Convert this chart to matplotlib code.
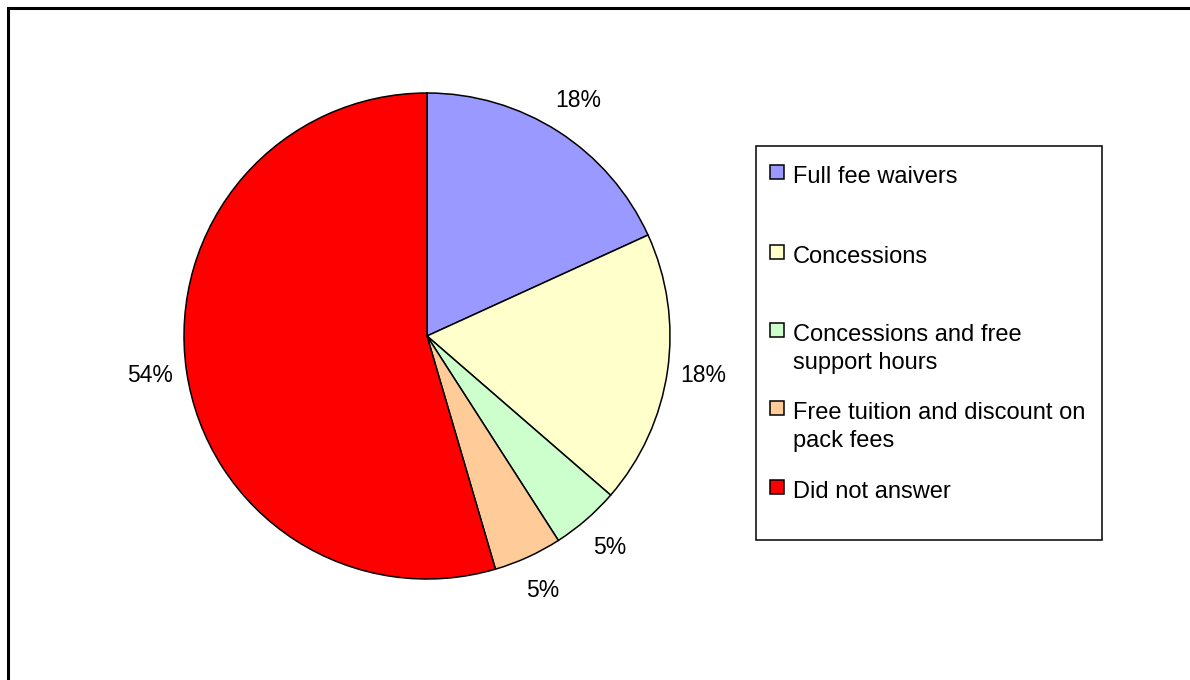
import numpy as np
import matplotlib
matplotlib.use("Agg")
import matplotlib.pyplot as plt
from matplotlib.patches import Rectangle

# ---- data ----
categories = ["Full fee waivers", "Concessions", "Concessions and free\nsupport hours",
              "Free tuition and discount on\npack fees", "Did not answer"]
counts = [4, 4, 1, 1, 12]
pct_labels = ["18%", "18%", "5%", "5%", "54%"]
colors = ["#9999FF", "#FFFFCC", "#CCFFCC", "#FFCC99", "#FF0000"]

plt.rcParams['font.family'] = ['Liberation Sans', 'DejaVu Sans']

W, H = 1190, 680
fig = plt.figure(figsize=(W / 100, H / 100), dpi=100)
ax = fig.add_axes([0, 0, 1, 1])

def py(y):
    return H - y

cx, cy, r = 427, py(336), 243
wedges, _ = ax.pie(counts, colors=colors, startangle=90, counterclock=False,
                   center=(cx, cy), radius=r,
                   wedgeprops=dict(edgecolor='black', linewidth=1.1))
ax.set_xlim(0, W)
ax.set_ylim(0, H)
ax.set_aspect('auto')
ax.axis('off')

for w, lab in zip(wedges, pct_labels):
    mid = np.deg2rad((w.theta1 + w.theta2) / 2)
    ax.text(cx + 1.15 * r * np.cos(mid), cy + 1.15 * r * np.sin(mid), lab,
            ha='center', va='center', fontsize=16.5, color='black')

# outer frame
ax.add_patch(Rectangle((8, py(700)), 1200, 700 - 8, fill=False, edgecolor='black',
                       linewidth=2.2, clip_on=False))

# legend box
ax.add_patch(Rectangle((756, py(540)), 1102 - 756, 540 - 146, fill=False,
                       edgecolor='black', linewidth=1.1))
marker_tops = [164, 244, 322, 400, 479]
for cat, col, top in zip(categories, colors, marker_tops):
    ax.add_patch(Rectangle((770, py(top + 15)), 14, 14, facecolor=col,
                           edgecolor='black', linewidth=1.1))
    base = top + 19
    for i, line in enumerate(cat.split("\n")):
        ax.text(793, py(base + 28 * i), line, ha='left', va='baseline',
                fontsize=17, color='black')

fig.savefig("out.png", dpi=100)
